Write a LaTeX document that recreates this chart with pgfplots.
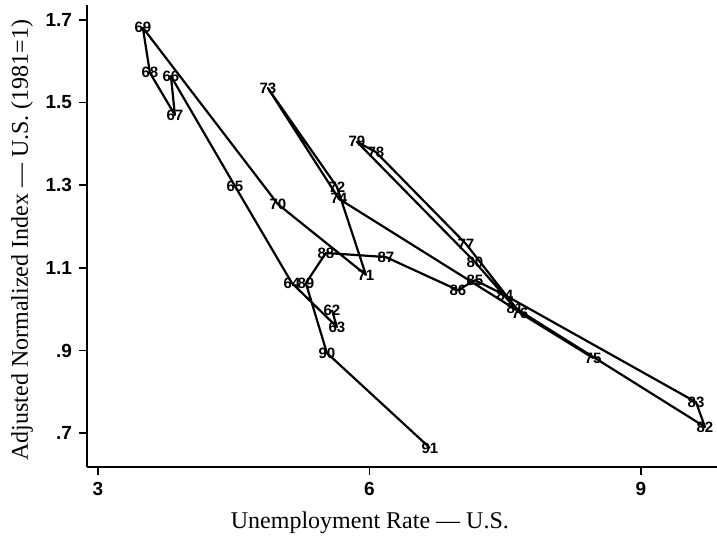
\documentclass[border=0pt]{standalone}
\usepackage{fontspec}
\setmainfont{Liberation Serif}
\newfontfamily\tickfont{Liberation Sans}
\usepackage{pgfplots}
\usepackage{pgfplotstable}
\pgfplotsset{compat=1.18}

\pgfplotstableread{
x y lab
5.586 0.998 62
5.641 0.957 63
5.144 1.063 64
4.514 1.298 65
3.807 1.564 66
3.851 1.470 67
3.575 1.572 68
3.497 1.681 69
4.989 1.254 70
5.961 1.083 71
5.641 1.296 72
4.878 1.535 73
5.663 1.267 74
8.470 0.882 75
7.663 0.991 76
7.066 1.158 77
6.072 1.380 78
5.862 1.405 79
7.166 1.114 80
7.608 1.003 81
9.707 0.715 82
9.608 0.775 83
7.497 1.034 84
7.166 1.070 85
6.978 1.046 86
6.182 1.126 87
5.519 1.136 88
5.298 1.063 89
5.530 0.894 90
6.669 0.664 91
}\datatable

\begin{document}
\begin{tikzpicture}
\path[use as bounding box] (0,0) rectangle (358.5pt,269pt);
\begin{axis}[
  at={(43.5pt,35.5pt)}, anchor=south west,
  scale only axis, width=315pt, height=231pt,
  xmin=2.88, xmax=9.84, ymin=0.618, ymax=1.736,
  axis x line*=bottom, axis y line*=left,
  axis line style={line width=1.3pt, -},
  xtick={3,6,9}, xticklabels={3,6,9},
  ytick={0.7,0.9,1.1,1.3,1.5,1.7}, yticklabels={.7,.9,1.1,1.3,1.5,1.7},
  /pgf/number format/assume math mode=true,
  tick align=outside, major tick length=4pt,
  tick style={line width=0.9pt, black},
  ticklabel style={font=\tickfont\bfseries\fontsize{9.5}{10}\selectfont},
  xlabel={Unemployment Rate --- U.S.},
  ylabel={Adjusted Normalized Index --- U.S. (1981=1)},
  label style={font=\fontsize{12}{14}\selectfont},
  xlabel style={at={(rel axis cs:0.449,-0.1212)}, anchor=center},
  ylabel style={at={(rel axis cs:-0.1032,0.491)}, anchor=center},
  clip=false,
]
\addplot[black, line width=1.1pt, line join=round, mark=none,
  nodes near coords, point meta=explicit symbolic,
  nodes near coords style={anchor=center, inner sep=1pt, font=\tickfont\bfseries\fontsize{7.5}{8}\selectfont}]
  table[x=x, y=y, meta=lab] {\datatable};
\end{axis}
\end{tikzpicture}
\end{document}
